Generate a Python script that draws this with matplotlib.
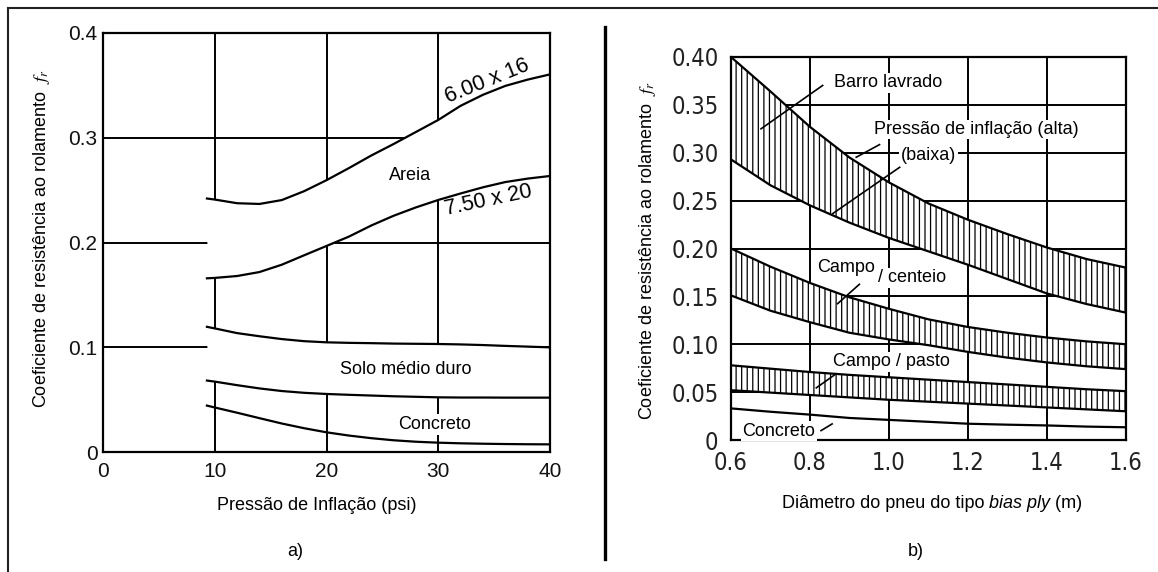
import numpy as np
import matplotlib
matplotlib.use("Agg")
import matplotlib.pyplot as plt
from matplotlib.lines import Line2D
from matplotlib import font_manager
from matplotlib.font_manager import FontProperties
import os

# ---------------- data: panel a) ----------------
press_x = [9.3, 10, 12, 14, 16, 18, 20, 22, 24, 26, 28, 30, 32, 34, 36, 38, 40]
tire_600x16 = [0.242, 0.241, 0.2375, 0.2368, 0.2405, 0.249, 0.2595, 0.271, 0.283, 0.294,
               0.3055, 0.317, 0.3305, 0.341, 0.3495, 0.3555, 0.3605]
tire_750x20 = [0.1658, 0.1662, 0.168, 0.1718, 0.1788, 0.1878, 0.1967, 0.2056, 0.2162, 0.2255,
               0.2335, 0.2406, 0.2468, 0.2527, 0.2577, 0.261, 0.2635]
solo_hi = [0.1195, 0.118, 0.1135, 0.1105, 0.1078, 0.1058, 0.1047, 0.1042, 0.1039, 0.1035,
           0.1033, 0.1031, 0.1027, 0.1021, 0.1013, 0.1006, 0.0999]
solo_lo = [0.0682, 0.0672, 0.0638, 0.0607, 0.0582, 0.0565, 0.0554, 0.0546, 0.0539, 0.0532,
           0.0527, 0.0522, 0.052, 0.052, 0.0519, 0.0519, 0.0519]
concreto_a = [0.0443, 0.0425, 0.0375, 0.0323, 0.0272, 0.0227, 0.0188, 0.0157, 0.0132, 0.0112,
              0.0098, 0.0089, 0.0083, 0.0079, 0.0076, 0.0074, 0.0073]
a_xticks = [0, 10, 20, 30, 40]
a_yticks = [0, 0.1, 0.2, 0.3, 0.4]
a_yticklabels = ["0", "0.1", "0.2", "0.3", "0.4"]

# ---------------- data: panel b) ----------------
diam_x = [0.6, 0.7, 0.8, 0.9, 1.0, 1.1, 1.2, 1.3, 1.4, 1.5, 1.6]
barro_alta = [0.400, 0.364, 0.327, 0.295, 0.269, 0.247, 0.230, 0.215, 0.201, 0.189, 0.180]
barro_baixa = [0.293, 0.266, 0.245, 0.227, 0.211, 0.197, 0.183, 0.168, 0.153, 0.142, 0.133]
centeio_hi = [0.200, 0.181, 0.164, 0.149, 0.137, 0.126, 0.118, 0.112, 0.107, 0.103, 0.100]
centeio_lo = [0.151, 0.135, 0.123, 0.112, 0.105, 0.099, 0.092, 0.086, 0.081, 0.077, 0.074]
pasto_hi = [0.078, 0.0745, 0.071, 0.068, 0.0655, 0.063, 0.0605, 0.058, 0.0555, 0.053, 0.051]
pasto_lo = [0.052, 0.0495, 0.047, 0.0445, 0.042, 0.040, 0.038, 0.036, 0.034, 0.032, 0.030]
concreto_b = [0.033, 0.0295, 0.0265, 0.023, 0.021, 0.019, 0.017, 0.016, 0.0152, 0.014, 0.0133]
b_xticks = [0.6, 0.8, 1.0, 1.2, 1.4, 1.6]
b_xticklabels = ["0.6", "0.8", "1.0", "1.2", "1.4", "1.6"]
b_yticks = [0, 0.05, 0.10, 0.15, 0.20, 0.25, 0.30, 0.35, 0.40]
b_yticklabels = ["0", "0.05", "0.10", "0.15", "0.20", "0.25", "0.30", "0.35", "0.40"]

# ---------------- styling ----------------
plt.rcParams["font.family"] = ["Liberation Sans", "DejaVu Sans"]
plt.rcParams["mathtext.fontset"] = "stix"
plt.rcParams["hatch.linewidth"] = 0.9

# look for a narrow / condensed face for the tick numbers of panel b
narrow_fp = None
narrow_size = 15
prefs = ["LiberationSansNarrow-Regular", "DejaVuSansCondensed.ttf", "RobotoCondensed-Regular",
         "RobotoCondensed-Light", "OpenSans_Condensed-Regular", "OpenSansCondensed"]
files = [f.fname for f in font_manager.fontManager.ttflist]
for p in prefs:
    hit = [fn for fn in files if p.lower() in os.path.basename(fn).lower()]
    if hit:
        narrow_fp = FontProperties(fname=hit[0])
        narrow_size = 17
        break
if narrow_fp is None:
    narrow_fp = FontProperties(family="Liberation Sans")

W, H = 1158, 572
fig = plt.figure(figsize=(W / 100, H / 100), dpi=100)


def box(l, t, r, b):
    return [l / W, 1 - b / H, (r - l) / W, (b - t) / H]


# outer frame and divider
fig.add_artist(Line2D([8 / W, 1], [1 - 8 / H, 1 - 8 / H], color="#222222", lw=1.5))
fig.add_artist(Line2D([8 / W, 8 / W], [0, 1 - 8 / H], color="#222222", lw=1.5))
fig.add_artist(Line2D([605 / W, 605 / W], [1 - 27 / H, 1 - 559 / H], color="black", lw=2.4))

# ---------------- panel a ----------------
axA = fig.add_axes(box(103, 33, 550, 452))
axA.set_xlim(0, 40)
axA.set_ylim(0, 0.4)
axA.set_xticks(a_xticks)
axA.set_yticks(a_yticks)
axA.set_yticklabels(a_yticklabels)
axA.tick_params(length=0, labelsize=15, colors="#111111")
axA.tick_params(axis="x", pad=7)
axA.tick_params(axis="y", pad=4)
axA.grid(True, color="black", lw=1.4)
axA.set_axisbelow(True)
for s in axA.spines.values():
    s.set_linewidth(1.6)

axA.fill_between(press_x, tire_750x20, tire_600x16, color="white", lw=0, zorder=1)
axA.fill_between(press_x, solo_lo, solo_hi, color="white", lw=0, zorder=1)
for ys in (tire_600x16, tire_750x20, solo_hi, solo_lo, concreto_a):
    axA.plot(press_x, ys, color="black", lw=1.6, zorder=3)

axA.text(27.5, 0.2644, "Areia", fontsize=13, ha="center", va="center", zorder=4)
axA.text(27.1, 0.0789, "Solo médio duro", fontsize=13, ha="center", va="center", zorder=4)
axA.text(29.7, 0.0264, "Concreto", fontsize=13, ha="center", va="center", zorder=4,
         bbox=dict(facecolor="white", edgecolor="none", pad=1.5))
axA.text(34.4, 0.3535, "6.00 x 16", fontsize=15.5, ha="center", va="center", rotation=22, zorder=4)
axA.text(34.5, 0.2406, "7.50 x 20", fontsize=15.5, ha="center", va="center", rotation=12, zorder=4)

LBL = 13
fig.text(42 / W, 1 - 239 / H, "Coeficiente de resistência ao rolamento  $f_r$",
         rotation=90, ha="center", va="center", fontsize=LBL)
fig.text(317 / W, 1 - 505 / H, "Pressão de Inflação (psi)", ha="center", va="center", fontsize=LBL)
fig.text(295 / W, 1 - 551 / H, "a)", ha="center", va="center", fontsize=LBL)

# ---------------- panel b ----------------
axB = fig.add_axes(box(731, 57, 1126, 440))
axB.set_xlim(0.6, 1.6)
axB.set_ylim(0, 0.4)
axB.set_xticks(b_xticks)
axB.set_xticklabels(b_xticklabels, fontproperties=narrow_fp)
axB.set_yticks(b_yticks)
axB.set_yticklabels(b_yticklabels, fontproperties=narrow_fp)
axB.tick_params(length=0, labelsize=narrow_size, colors="#222222")
axB.tick_params(axis="x", pad=8)
axB.tick_params(axis="y", pad=9)
axB.grid(True, color="black", lw=1.4)
axB.set_axisbelow(True)
for s in axB.spines.values():
    s.set_linewidth(1.6)

for lo, hi in ((barro_baixa, barro_alta), (centeio_lo, centeio_hi), (pasto_lo, pasto_hi)):
    axB.fill_between(diam_x, lo, hi, facecolor="white", edgecolor="black", hatch="|||",
                     lw=0, zorder=1)
for ys in (barro_alta, barro_baixa, centeio_hi, centeio_lo, pasto_hi, pasto_lo, concreto_b):
    axB.plot(diam_x, ys, color="black", lw=1.6, zorder=3)

bb = dict(facecolor="white", edgecolor="none", pad=1.0)
axB.text(0.997, 0.3731, "Barro lavrado", fontsize=13, ha="center", va="center", zorder=5, bbox=bb)
axB.text(1.221, 0.3243, "Pressão de inflação (alta)", fontsize=13, ha="center", va="center",
         zorder=5, bbox=bb)
axB.text(1.100, 0.297, "(baixa)", fontsize=13, ha="center", va="center", zorder=5, bbox=bb)
axB.text(0.892, 0.180, "Campo", fontsize=13, ha="center", va="center", zorder=5, bbox=bb)
axB.text(1.059, 0.1696, "/ centeio", fontsize=13, ha="center", va="center", zorder=5, bbox=bb)
axB.text(1.006, 0.0817, "Campo / pasto", fontsize=13, ha="center", va="center", zorder=5, bbox=bb)
axB.text(0.721, 0.0091, "Concreto", fontsize=13, ha="center", va="center", zorder=5, bbox=bb)

leaders = [((0.832, 0.3703), (0.676, 0.325)),
           ((0.976, 0.3085), (0.917, 0.2953)),
           ((1.027, 0.2848), (0.858, 0.2366)),
           ((0.925, 0.1626), (0.870, 0.1424)),
           ((0.866, 0.0691), (0.816, 0.0545)),
           ((0.856, 0.0168), (0.828, 0.0098))]
for (x0, y0), (x1, y1) in leaders:
    axB.plot([x0, x1], [y0, y1], color="black", lw=1.2, zorder=4)

fig.text(648 / W, 1 - 251 / H, "Coeficiente de resistência ao rolamento  $f_r$",
         rotation=90, ha="center", va="center", fontsize=LBL)

# x label of panel b, with "bias ply" in italics, assembled from three pieces
renderer = fig.canvas.get_renderer()
parts = [("Diâmetro do pneu do tipo ", "normal"), ("bias ply", "italic"), (" (m)", "normal")]
objs = [fig.text(0, 1 - 503 / H, t, fontsize=LBL, style=st, ha="left", va="center")
        for t, st in parts]
widths = [o.get_window_extent(renderer).width for o in objs]
x = 932 - sum(widths) / 2
for o, w in zip(objs, widths):
    o.set_x(x / W)
    x += w

fig.text(916 / W, 1 - 552 / H, "b)", ha="center", va="center", fontsize=LBL)

fig.savefig("out.png", dpi=100, facecolor="white")
